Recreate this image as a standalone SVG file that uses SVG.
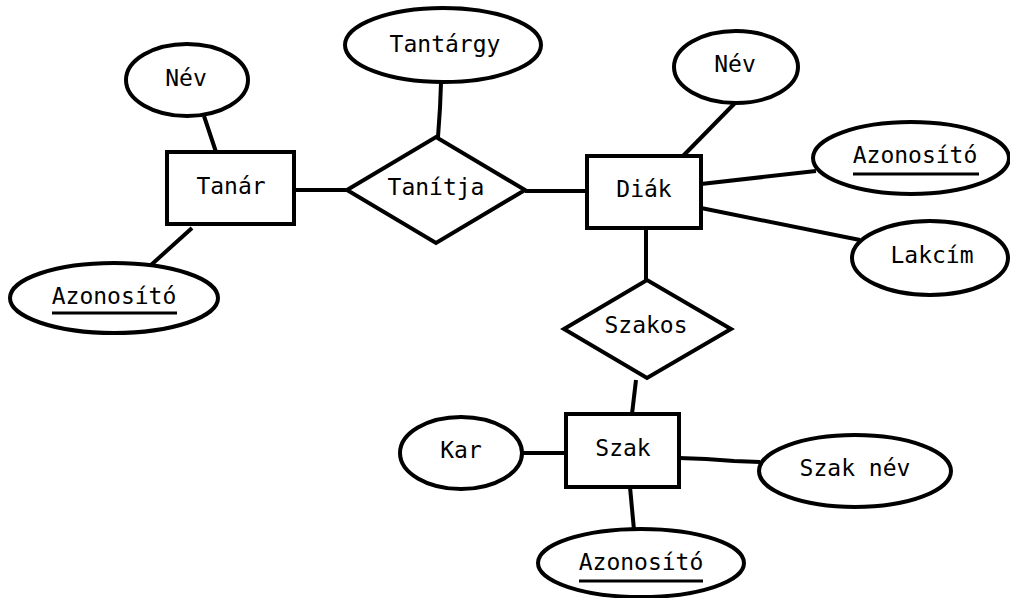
<svg xmlns="http://www.w3.org/2000/svg" width="1010" height="598" viewBox="0 0 1010 598">
<style>
.s{fill:#fff;stroke:#000;stroke-width:4}
.c{fill:none;stroke:#000;stroke-width:4}
.u{stroke:#000;stroke-width:3}
text{font-family:"DejaVu Sans Mono","Liberation Mono",monospace;font-size:23px;fill:#000;text-anchor:middle}
</style>
<rect width="1010" height="598" fill="#fff"/>
<g id="connectors">
<line class="c" x1="204" y1="116" x2="216" y2="152"/>
<line class="c" x1="192" y1="228" x2="151" y2="265"/>
<line class="c" x1="294" y1="190" x2="347" y2="190"/>
<polyline class="c" points="441,83 440,108 438,137"/>
<line class="c" x1="525" y1="191" x2="588" y2="191"/>
<line class="c" x1="735" y1="103" x2="683" y2="156"/>
<line class="c" x1="701" y1="184" x2="816" y2="171"/>
<line class="c" x1="701" y1="208" x2="860" y2="240"/>
<line class="c" x1="646" y1="228" x2="646" y2="280"/>
<line class="c" x1="636" y1="380" x2="632" y2="414"/>
<line class="c" x1="523" y1="453" x2="566" y2="453"/>
<polyline class="c" points="679,458 706,459 734,461 760,462"/>
<line class="c" x1="630" y1="487" x2="634" y2="530"/>
</g>
<g id="tanar"><rect class="s" x="167" y="152" width="127" height="72"/><text x="231" y="194">Tanár</text></g>
<g id="nev1"><ellipse class="s" cx="187" cy="80" rx="61" ry="36"/><text x="186" y="86">Név</text></g>
<g id="azon1"><ellipse class="s" cx="114" cy="298" rx="104" ry="35"/><text x="114" y="304">Azonosító</text><line class="u" x1="52" y1="313" x2="177" y2="313"/></g>
<g id="tanitja"><polygon class="s" points="347,190 436,137 525,190 436,243"/><text x="436" y="195">Tanítja</text></g>
<g id="tantargy"><ellipse class="s" cx="443" cy="45" rx="98" ry="37"/><text x="445" y="52">Tantárgy</text></g>
<g id="diak"><rect class="s" x="587" y="156" width="114" height="72"/><text x="644" y="197">Diák</text></g>
<g id="nev2"><ellipse class="s" cx="736" cy="67" rx="62" ry="36"/><text x="735" y="72">Név</text></g>
<g id="azon2"><ellipse class="s" cx="911" cy="158" rx="98" ry="36"/><text x="915" y="163">Azonosító</text><line class="u" x1="853" y1="174" x2="979" y2="174"/></g>
<g id="lakcim"><ellipse class="s" cx="930" cy="258" rx="78" ry="37"/><text x="932" y="263">Lakcím</text></g>
<g id="szakos"><polygon class="s" points="564,329 647,280 731,329 647,378"/><text x="646" y="333">Szakos</text></g>
<g id="szak"><rect class="s" x="566" y="414" width="113" height="73"/><text x="623" y="456">Szak</text></g>
<g id="kar"><ellipse class="s" cx="461" cy="453" rx="61" ry="36"/><text x="461" y="458">Kar</text></g>
<g id="szaknev"><ellipse class="s" cx="855" cy="471" rx="96" ry="36"/><text x="855" y="476">Szak név</text></g>
<g id="azon3"><ellipse class="s" cx="641" cy="563" rx="103" ry="34"/><text x="641" y="570">Azonosító</text><line class="u" x1="579" y1="581" x2="703" y2="581"/></g>
</svg>
